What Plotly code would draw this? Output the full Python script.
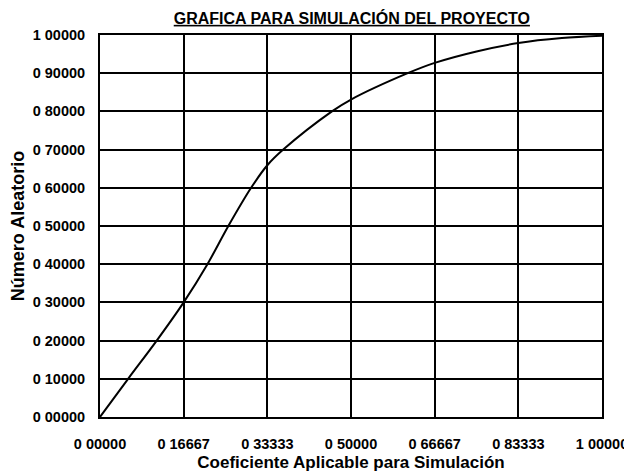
import plotly.graph_objects as go

# Curve values
coef = [0.0, 0.056, 0.113, 0.16667, 0.214, 0.2557, 0.301, 0.33333, 0.365,
        0.462, 0.5, 0.613, 0.66667, 0.75, 0.83333, 0.92, 1.0]
aleat = [0.0, 0.10, 0.20, 0.30, 0.40, 0.50, 0.60, 0.659, 0.70,
         0.80, 0.831, 0.90, 0.927, 0.957, 0.979, 0.992, 0.998]

x_ticks = [0, 1/6, 2/6, 3/6, 4/6, 5/6, 1.0]
x_labels = ["0 00000", "0 16667", "0 33333", "0 50000", "0 66667", "0 83333", "1 00000"]
y_ticks = [i / 10 for i in range(11)]
y_labels = ["0 00000", "0 10000", "0 20000", "0 30000", "0 40000", "0 50000",
            "0 60000", "0 70000", "0 80000", "0 90000", "1 00000"]

font = "Liberation Sans, Arial, sans-serif"

fig = go.Figure()
fig.add_trace(go.Scatter(x=coef, y=aleat, mode="lines", line=dict(color="black", width=2, shape="spline"),
                         showlegend=False, hoverinfo="skip"))

fig.update_layout(
    width=624, height=465,
    margin=dict(l=92, r=30, t=27, b=56, autoexpand=False),
    paper_bgcolor="white", plot_bgcolor="white",
    font=dict(family=font, color="black", size=14),
    title=dict(text="<b><u>GRAFICA PARA SIMULACIÓN DEL PROYECTO</u></b>",
               x=0.551, xanchor="center", y=0.978, yanchor="middle",
               font=dict(family=font, size=16, color="black")),
    xaxis=dict(range=[0, 1], tickvals=x_ticks, ticktext=["<b>%s</b>" % t for t in x_labels],
               showgrid=True, gridcolor="black", gridwidth=1.5, zeroline=False,
               showline=True, linecolor="black", linewidth=2, mirror=True, automargin=False,
               ticks="", ticklen=0, tickfont=dict(size=14.5), ticklabelstandoff=13,
               title=dict(text="<b>Coeficiente Aplicable para Simulación</b>", font=dict(size=17), standoff=5)),
    yaxis=dict(range=[0, 1], tickvals=y_ticks, ticktext=["<b>%s</b>" % t for t in y_labels],
               showgrid=True, gridcolor="black", gridwidth=1.5, zeroline=False,
               showline=True, linecolor="black", linewidth=2, mirror=True, automargin=False,
               ticks="", ticklen=0, tickfont=dict(size=14.5), ticklabelstandoff=10,
               title=dict(text="<b>Número Aleatorio</b>", font=dict(size=18), standoff=8)),
)

fig.write_html("out.html")
